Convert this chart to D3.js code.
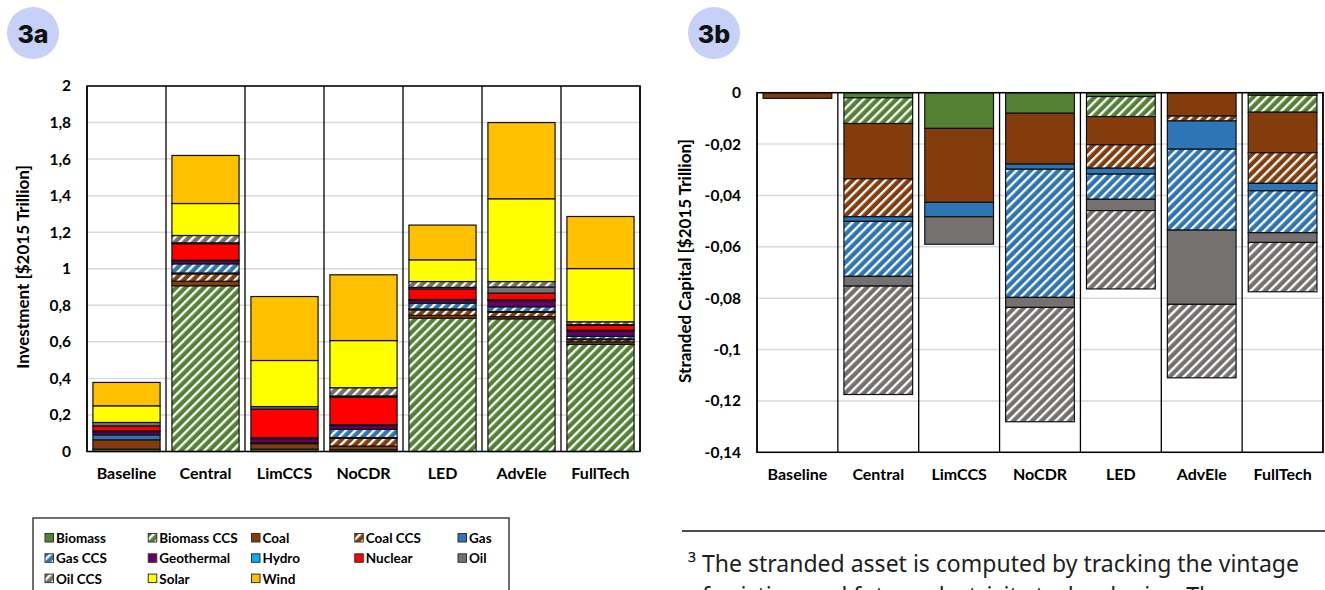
<!DOCTYPE html>
<html>
<head>
<meta charset="utf-8">
<script src="https://cdn.jsdelivr.net/npm/d3@7"></script>
<style>
  html, body { margin: 0; padding: 0; background: #fff; overflow: hidden; }
  svg { display: block; }
</style>
</head>
<body>
<svg id="fig" width="1325" height="590"></svg>
<script>
// ---- Scenarios and technologies -------------------------------------------
const scenarios = ["Baseline", "Central", "LimCCS", "NoCDR", "LED", "AdvEle", "FullTech"];
const techs = ["Biomass", "Biomass CCS", "Coal", "Coal CCS", "Gas", "Gas CCS", "Geothermal",
               "Hydro", "Nuclear", "Oil", "Oil CCS", "Solar", "Wind"];
const techColors = ["#548235", "#548235", "#843C0C", "#843C0C", "#2E75B6", "#2E75B6", "#660066",
                    "#00B0F0", "#FF0000", "#767171", "#767171", "#FFFF00", "#FFC000"];
const techHatched = [false, true, false, true, false, true, false, false, false, false, true, false, false];

// ---- 3a: investment [$2015 trillion] per scenario --------------------------
const invBiomass    = [0.013, 0,     0.013, 0.010, 0,     0,     0];
const invBiomassCCS = [0,     0.907, 0,     0,     0.730, 0.726, 0.586];
const invCoal       = [0.051, 0.025, 0.030, 0.020, 0.015, 0.012, 0.014];
const invCoalCCS    = [0,     0.040, 0,     0.042, 0.030, 0.024, 0.012];
const invGas        = [0.027, 0.005, 0.005, 0.004, 0.005, 0.004, 0.004];
const invGasCCS     = [0,     0.050, 0,     0.046, 0.032, 0.026, 0.014];
const invGeothermal = [0.017, 0.015, 0.022, 0.020, 0.015, 0.034, 0.030];
const invHydro      = [0.005, 0.005, 0.005, 0.004, 0.005, 0.004, 0.004];
const invNuclear    = [0.027, 0.090, 0.157, 0.152, 0.058, 0.037, 0.026];
const invOil        = [0.019, 0.005, 0.014, 0.006, 0.008, 0.033, 0.004];
const invOilCCS     = [0,     0.040, 0,     0.045, 0.032, 0.030, 0.016];
const invSolar      = [0.091, 0.175, 0.252, 0.258, 0.119, 0.453, 0.291];
const invWind       = [0.128, 0.263, 0.350, 0.360, 0.190, 0.417, 0.285];

// ---- 3b: stranded capital [$2015 trillion] per scenario --------------------
const strBiomass    = [0,       -0.0020, -0.0139, -0.0080, -0.0015, 0,       -0.0010];
const strBiomassCCS = [0,       -0.0100, 0,       0,       -0.0078, 0,       -0.0066];
const strCoal       = [-0.0022, -0.0215, -0.0288, -0.0198, -0.0110, -0.0091, -0.0158];
const strCoalCCS    = [0,       -0.0148, 0,       0,       -0.0091, -0.0019, -0.0119];
const strGas        = [0,       -0.0018, -0.0056, -0.0020, -0.0023, -0.0110, -0.0029];
const strGasCCS     = [0,       -0.0214, 0,       -0.0499, -0.0098, -0.0315, -0.0163];
const strOil        = [0,       -0.0038, -0.0107, -0.0039, -0.0044, -0.0289, -0.0038];
const strOilCCS     = [0,       -0.0422, 0,       -0.0445, -0.0305, -0.0286, -0.0192];

// ---- Axis ticks ------------------------------------------------------------
const investTicks   = [0, 0.2, 0.4, 0.6, 0.8, 1, 1.2, 1.4, 1.6, 1.8, 2];
const strandedTicks = [0, -0.02, -0.04, -0.06, -0.08, -0.1, -0.12, -0.14];

// ---- Legend ----------------------------------------------------------------
const legendColumns = 5;

// ---- Footnote --------------------------------------------------------------
const footnoteLines = [
  "\u00B3 The stranded asset is computed by tracking the vintage",
  "of existing and future electricity technologies. The"
];

// Tables for d3.stack, built from the arrays above
const investSeries = {
  "Biomass": invBiomass, "Biomass CCS": invBiomassCCS, "Coal": invCoal, "Coal CCS": invCoalCCS,
  "Gas": invGas, "Gas CCS": invGasCCS, "Geothermal": invGeothermal, "Hydro": invHydro,
  "Nuclear": invNuclear, "Oil": invOil, "Oil CCS": invOilCCS, "Solar": invSolar, "Wind": invWind
};
const strandedSeries = {
  "Biomass": strBiomass, "Biomass CCS": strBiomassCCS, "Coal": strCoal, "Coal CCS": strCoalCCS,
  "Gas": strGas, "Gas CCS": strGasCCS, "Oil": strOil, "Oil CCS": strOilCCS
};
function toRows(series) {
  return scenarios.map((s, i) => {
    const row = { scenario: s };
    techs.forEach(t => { row[t] = series[t] ? series[t][i] : 0; });
    return row;
  });
}

const FONT = "Lato, 'Open Sans', sans-serif";
const svg = d3.select("#fig");
const defs = svg.append("defs");
const patId = t => "hatch-" + t.replace(/\s+/g, "-");
const fillOf = t => {
  const i = techs.indexOf(t);
  return techHatched[i] ? `url(#${patId(t)})` : techColors[i];
};

// Diagonal white-stripe hatch for the CCS technologies
techs.forEach((t, i) => {
  if (!techHatched[i]) return;
  const size = 6.6;
  const p = defs.append("pattern")
    .attr("id", patId(t))
    .attr("patternUnits", "userSpaceOnUse")
    .attr("width", size).attr("height", size)
    .attr("patternTransform", "rotate(45)");
  p.append("rect").attr("width", size).attr("height", size).attr("fill", techColors[i]);
  p.append("rect").attr("x", 0).attr("width", 2.3).attr("height", size).attr("fill", "#fff");
});

const fmtComma = d => String(+d.toFixed(2)).replace(".", ",");

function drawPanel(cfg) {
  const g = svg.append("g");
  const x = d3.scaleBand().domain(scenarios).range([cfg.left, cfg.right]).padding(0);
  const y = d3.scaleLinear().domain(cfg.domain).range([cfg.bottom, cfg.top]);
  const barW = x.bandwidth() * 0.85;

  // horizontal gridlines
  g.append("g").selectAll("line").data(cfg.ticks).join("line")
    .attr("x1", cfg.left).attr("x2", cfg.right)
    .attr("y1", d => y(d)).attr("y2", d => y(d))
    .attr("stroke", "#d9d9d9").attr("stroke-width", 1.5);

  // category dividers
  const edges = scenarios.map(s => x(s)).concat([cfg.right]);
  g.append("g").selectAll("line").data(edges).join("line")
    .attr("x1", d => d).attr("x2", d => d)
    .attr("y1", cfg.top).attr("y2", cfg.bottom)
    .attr("stroke", "#000").attr("stroke-width", 1.3);

  // stacked bars
  const stack = d3.stack().keys(techs).offset(cfg.offset);
  const layers = stack(toRows(cfg.series));
  g.append("g").selectAll("g").data(layers).join("g")
    .attr("fill", d => fillOf(d.key))
    .selectAll("rect")
    .data(d => d.filter(v => Math.abs(v[1] - v[0]) > 1e-9))
    .join("rect")
    .attr("x", d => x(d.data.scenario) + (x.bandwidth() - barW) / 2)
    .attr("width", barW)
    .attr("y", d => Math.min(y(d[0]), y(d[1])))
    .attr("height", d => Math.abs(y(d[0]) - y(d[1])))
    .attr("stroke", "#111").attr("stroke-width", 1.2);

  // frame
  g.append("rect")
    .attr("x", cfg.left).attr("y", cfg.top)
    .attr("width", cfg.right - cfg.left).attr("height", cfg.bottom - cfg.top)
    .attr("fill", "none").attr("stroke", "#000").attr("stroke-width", 1.5);

  // y axis
  const yAxis = d3.axisLeft(y).tickValues(cfg.ticks).tickSize(0).tickPadding(0).tickFormat(fmtComma);
  const ya = g.append("g").attr("transform", `translate(${cfg.tickX},0)`).call(yAxis);
  ya.select(".domain").remove();
  ya.selectAll("text").attr("font-family", FONT).attr("font-weight", 700)
    .attr("font-size", 15.5).attr("fill", "#000");

  // x axis labels
  const xAxis = d3.axisBottom(x).tickSize(0).tickPadding(0);
  const xa = g.append("g").attr("transform", `translate(0,${cfg.labelY})`).call(xAxis);
  xa.select(".domain").remove();
  xa.selectAll("text").attr("font-family", FONT).attr("font-weight", 700)
    .attr("font-size", 16).attr("fill", "#000").attr("dy", 0);

  // y axis title
  g.append("text")
    .attr("transform", `translate(${cfg.titleX},${cfg.titleY}) rotate(-90)`)
    .attr("text-anchor", "middle").attr("dominant-baseline", "central")
    .attr("font-family", FONT).attr("font-weight", 700).attr("font-size", 17)
    .text(cfg.title);

  // panel badge
  svg.append("circle").attr("cx", cfg.badgeX).attr("cy", 33).attr("r", 26).attr("fill", "#c7d0f7");
  svg.append("text").attr("x", cfg.badgeX).attr("y", 34)
    .attr("text-anchor", "middle").attr("dominant-baseline", "central")
    .attr("font-family", "Inter, 'Open Sans', sans-serif").attr("font-weight", 800)
    .attr("font-size", 25).attr("fill", "#111").text(cfg.badge);
}

drawPanel({
  series: investSeries, offset: d3.stackOffsetNone,
  left: 87, right: 640, top: 86, bottom: 451.5, domain: [0, 2], ticks: investTicks,
  tickX: 71, labelY: 479, title: "Investment [$2015 Trillion]", titleX: 22, titleY: 267,
  badge: "3a", badgeX: 33
});

drawPanel({
  series: strandedSeries, offset: d3.stackOffsetDiverging,
  left: 757, right: 1323, top: 92.7, bottom: 452.3, domain: [-0.14, 0], ticks: strandedTicks,
  tickX: 741, labelY: 480, title: "Stranded Capital [$2015 Trillion]", titleX: 684, titleY: 261,
  badge: "3b", badgeX: 714
});

// ---- Legend ----------------------------------------------------------------
const lg = svg.append("g");
lg.append("rect").attr("x", 33).attr("y", 518).attr("width", 476).attr("height", 90)
  .attr("fill", "#fff").attr("stroke", "#404040").attr("stroke-width", 1.5);
const colX = d3.scalePoint().domain(d3.range(legendColumns)).range([45, 458]);
const item = lg.selectAll("g.item").data(techs).join("g").attr("class", "item")
  .attr("transform", (t, i) => `translate(${colX(i % legendColumns)},${538 + Math.floor(i / legendColumns) * 20.3})`);
item.append("rect").attr("x", 0).attr("y", -4.5).attr("width", 8.5).attr("height", 8.5)
  .attr("fill", t => fillOf(t)).attr("stroke", "#333").attr("stroke-width", 1);
item.append("text").attr("x", 11).attr("y", 0).attr("dominant-baseline", "central")
  .attr("font-family", FONT).attr("font-weight", 700).attr("font-size", 13.5).attr("fill", "#000")
  .text(t => t);

// ---- Footnote --------------------------------------------------------------
svg.append("line").attr("x1", 682).attr("x2", 1325).attr("y1", 531).attr("y2", 531)
  .attr("stroke", "#111").attr("stroke-width", 1.3);
svg.append("g").selectAll("text").data(footnoteLines).join("text")
  .attr("x", 688).attr("y", (d, i) => 572 + i * 32)
  .attr("font-family", "'Noto Sans', 'Open Sans', sans-serif").attr("font-size", 23)
  .attr("fill", "#1e1e1e").text(d => d);
</script>
</body>
</html>
